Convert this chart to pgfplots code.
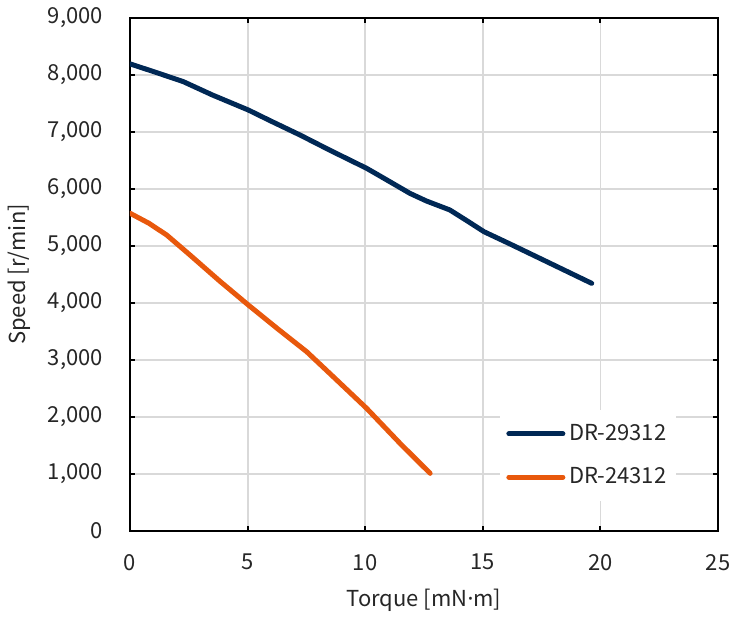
\documentclass[border=0pt]{standalone}
\usepackage{pgfplots}
\pgfplotsset{compat=1.18}
\usepackage{fontspec}
\setmainfont{Noto Sans CJK JP}
\newfontfamily\dotfont{Noto Sans}
\definecolor{navy}{RGB}{0,40,85}
\definecolor{orng}{RGB}{232,88,12}
\definecolor{gridgray}{RGB}{217,217,217}
\begin{document}
\begin{tikzpicture}
\begin{axis}[
  scale only axis,
  width=294pt, height=256.5pt,
  xmin=0, xmax=25, ymin=0, ymax=9000,
  xtick={0,5,...,25},
  ytick={0,1000,...,9000},
  scaled y ticks=false,
  /pgf/number format/assume math mode=true,
  /pgf/number format/1000 sep={,},
  tick label style={font=\fontsize{11}{13}\selectfont, color=black!85},
  label style={font=\fontsize{11}{13}\selectfont, color=black!85},
  xlabel={Torque [mN{\dotfont·}m]},
  ylabel={Speed [r/min]},
  xlabel style={yshift=-2.5pt},
  ylabel style={yshift=2pt},
  xticklabel style={yshift=-8pt},
  yticklabel style={xshift=-10pt},
  tick align=inside,
  major tick length=2.5pt,
  tick style={black, line width=1pt},
  axis line style={black, line width=1.4pt},
  grid=major,
  major grid style={gridgray, line width=0.9pt},
  legend style={at={(axis cs:15.73,2123)}, anchor=north west, draw=none, fill=white,
    font=\fontsize{11}{13}\selectfont, text=black!85, row sep=8pt, inner xsep=3pt, inner ysep=5pt},
  legend cell align=left,
  legend image code/.code={\draw[#1, line cap=round] (0pt,0pt) -- (27pt,0pt);},
]
\addplot[navy, line width=2.5pt, line cap=round, line join=round] coordinates {
(0,8195) (1,8060) (2.27,7883) (3.5,7650) (5.03,7386) (6,7190) (7.23,6947)
(8.5,6680) (10.06,6363) (10.63,6228) (11.9,5924) (12.6,5790) (13.6,5632)
(14.3,5450) (15.05,5251) (16.16,5035) (17.72,4725) (19.63,4345)
};
\addlegendentry{DR-29312}
\addplot[orng, line width=2.5pt, line cap=round, line join=round] coordinates {
(0,5575) (0.8,5400) (1.56,5193) (2.55,4842) (3.8,4390) (5.03,3965) (6.3,3540)
(7.51,3146) (8.64,2707) (10.06,2152) (11.48,1538) (12.76,1012)
};
\addlegendentry{DR-24312}
\end{axis}
\path (current axis.south west) ++(-65pt,-41.5pt);
\path (current axis.north east) ++(14.5pt,9pt);
\end{tikzpicture}
\end{document}
